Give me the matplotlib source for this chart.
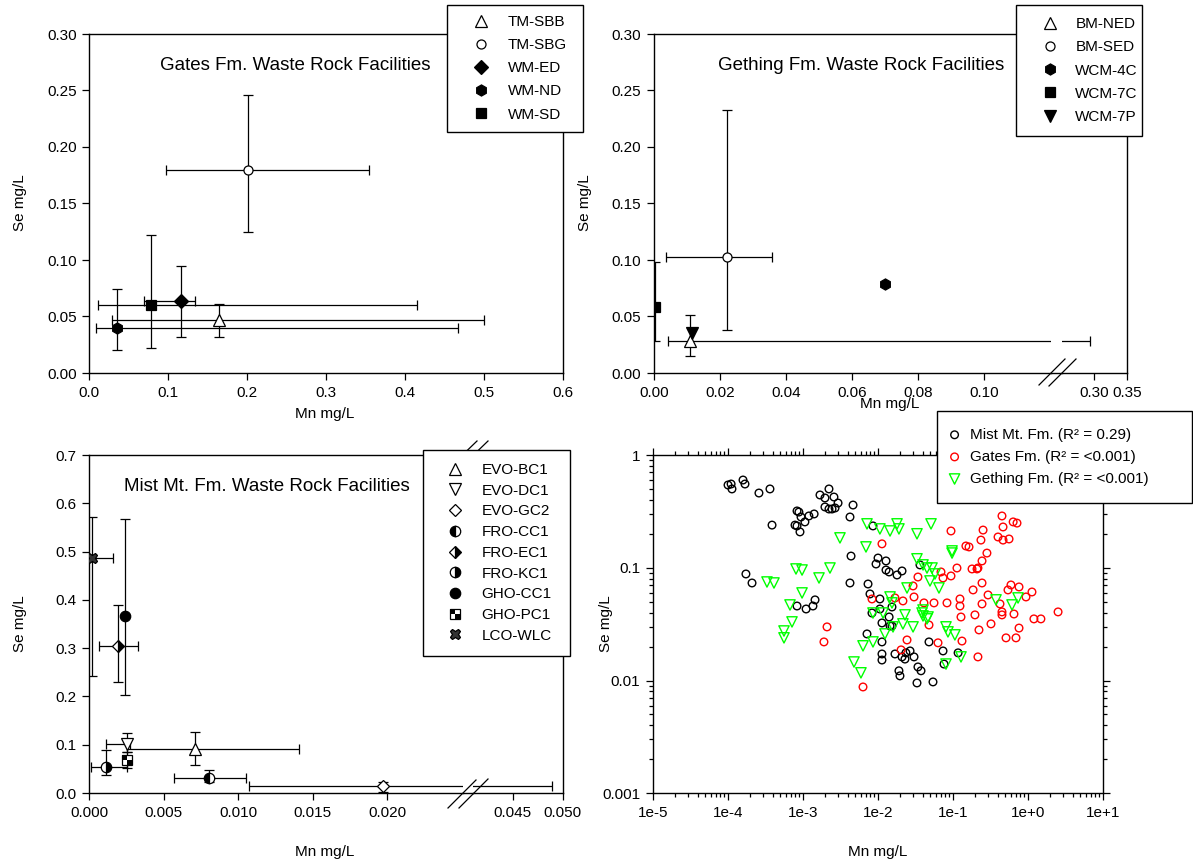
import numpy as np
import matplotlib
matplotlib.use('Agg')
import matplotlib.pyplot as plt
from matplotlib.lines import Line2D
from matplotlib.path import Path
from matplotlib.ticker import FixedLocator, FixedFormatter, NullFormatter, LogLocator

plt.rcParams['font.family'] = ['Liberation Sans', 'DejaVu Sans']
plt.rcParams['font.size'] = 11

# ---- Gates Fm. facilities (mean with min/max range) ----
gates_sites = ['TM-SBB', 'TM-SBG', 'WM-ED', 'WM-ND', 'WM-SD']
gates_mn = [0.164, 0.201, 0.117, 0.035, 0.078]
gates_mn_lo = [0.029, 0.097, 0.070, 0.009, 0.011]
gates_mn_hi = [0.500, 0.354, 0.134, 0.467, 0.415]
gates_se = [0.047, 0.180, 0.064, 0.040, 0.060]
gates_se_lo = [0.032, 0.125, 0.032, 0.020, 0.022]
gates_se_hi = [0.061, 0.246, 0.095, 0.074, 0.122]

# ---- Gething Fm. facilities ----
gething_sites = ['BM-NED', 'BM-SED', 'WCM-4C', 'WCM-7C', 'WCM-7P']
gething_mn = [0.0109, 0.0220, 0.0698, 0.0004, 0.0114]
gething_mn_lo = [0.0043, 0.0035, np.nan, np.nan, np.nan]
gething_mn_hi = [0.294, 0.0357, np.nan, np.nan, np.nan]
gething_se = [0.028, 0.103, 0.079, 0.058, 0.035]
gething_se_lo = [0.015, 0.038, np.nan, 0.028, np.nan]
gething_se_hi = [0.051, 0.233, np.nan, 0.098, np.nan]

# ---- Mist Mt. Fm. facilities ----
mist_sites = ['EVO-BC1', 'EVO-DC1', 'EVO-GC2', 'FRO-CC1', 'FRO-EC1',
              'FRO-KC1', 'GHO-CC1', 'GHO-PC1', 'LCO-WLC']
mist_mn = [0.0071, 0.0025, 0.0197, 0.0080, 0.0019, 0.0011, 0.0024, 0.0025, 0.0002]
mist_mn_lo = [0.0025, 0.0011, 0.0107, 0.0057, 0.00065, 0.00013, np.nan, np.nan, 0.0]
mist_mn_hi = [0.0141, 0.0027, 0.0489, 0.0105, 0.0033, 0.0025, np.nan, np.nan, 0.0016]
mist_se = [0.092, 0.102, 0.014, 0.032, 0.304, 0.054, 0.367, 0.069, 0.487]
mist_se_lo = [0.057, 0.085, 0.003, 0.023, 0.229, 0.037, 0.203, 0.052, 0.242]
mist_se_hi = [0.126, 0.124, 0.023, 0.048, 0.389, 0.090, 0.567, 0.085, 0.571]

# ---- individual samples for the log-log panel ----
mist_all_mn = [1.01e-4, 1.11e-4, 1.14e-4, 1.60e-4, 1.70e-4, 2.61e-4, 3.66e-4,
               3.90e-4, 1.75e-4, 2.11e-4,
               8.4e-4, 8.9e-4, 9.5e-4, 7.9e-4, 8.4e-4, 9.2e-4, 1.07e-3, 1.21e-3, 1.42e-3,
               2.24e-3, 1.70e-3, 1.98e-3, 2.61e-3, 2.96e-3, 1.98e-3, 2.24e-3, 2.46e-3,
               2.70e-3, 4.69e-3, 4.27e-3,
               8.4e-4, 1.11e-3, 1.37e-3, 1.46e-3,
               4.41e-3, 4.27e-3, 8.65e-3,
               1.01e-2, 9.5e-3, 1.29e-2, 1.29e-2, 1.42e-2, 1.81e-2, 2.11e-2, 3.66e-2,
               7.43e-3, 7.89e-3, 1.07e-2, 8.39e-3, 1.07e-2, 1.55e-2, 1.42e-2, 1.14e-2,
               1.46e-2, 1.55e-2,
               7.2e-3, 1.14e-2, 1.14e-2, 1.14e-2, 1.70e-2, 2.11e-2, 2.38e-2, 2.70e-2,
               2.31e-2, 3.05e-2, 1.92e-2, 1.98e-2, 3.44e-2, 3.78e-2, 3.34e-2, 5.46e-2,
               4.83e-2, 7.43e-2, 0.118, 7.66e-2]
mist_all_se = [0.542, 0.553, 0.50, 0.60, 0.553, 0.46, 0.50,
               0.239, 0.0881, 0.0733,
               0.319, 0.312, 0.282, 0.239, 0.235, 0.208, 0.255, 0.288, 0.30,
               0.50, 0.442, 0.416, 0.424, 0.375, 0.346, 0.332, 0.332, 0.339, 0.36, 0.282,
               0.0458, 0.0431, 0.0458, 0.0519,
               0.127, 0.0733, 0.235,
               0.122, 0.108, 0.115, 0.0955, 0.0918, 0.0863, 0.0937, 0.106,
               0.0718, 0.0586, 0.0529, 0.0397, 0.0431, 0.0449, 0.0366, 0.0324, 0.0305,
               0.0305,
               0.0259, 0.022, 0.0172, 0.0152, 0.0172, 0.0162, 0.0176, 0.0183, 0.0155,
               0.0162, 0.0122, 0.011, 0.0132, 0.0122, 0.00952, 0.00972, 0.022, 0.0183,
               0.0176, 0.014]

gates_all_mn = [1.14e-2, 8.39e-3, 1.70e-2, 2.17e-2, 2.96e-2, 3.05e-2, 3.44e-2, 2.11e-3,
                1.92e-3, 2.46e-2, 2.05e-2, 6.37e-3,
                0.454, 0.64, 0.72, 0.469, 0.0949, 0.254, 0.238, 0.402, 0.469, 0.564, 0.150,
                0.165, 0.286, 0.246, 0.114, 0.181, 0.211, 0.217, 0.0698, 0.0949, 0.0743,
                0.246, 0.187, 0.296, 0.598, 0.766, 0.546, 1.14, 0.949,
                0.0414, 0.0563, 0.0839, 0.125, 0.125, 0.246, 0.427, 0.454, 0.454, 0.656,
                0.198, 0.129, 1.21, 1.50, 2.54, 0.324, 0.0483, 0.766, 0.224, 0.514, 0.698,
                0.133, 0.0637, 0.217]
gates_all_se = [0.163, 0.0529, 0.054, 0.0508, 0.069, 0.0551, 0.0828, 0.0299, 0.022,
                0.0229, 0.0187, 0.00877,
                0.288, 0.255, 0.249, 0.23, 0.212, 0.216, 0.176, 0.1875, 0.176, 0.18, 0.156,
                0.153, 0.135, 0.115, 0.0995, 0.0976, 0.0976, 0.0995, 0.0918, 0.0846, 0.0812,
                0.0733, 0.0636, 0.0574, 0.0704, 0.0676, 0.0636, 0.061, 0.0551,
                0.0488, 0.0488, 0.0488, 0.0529, 0.0458, 0.0478, 0.0478, 0.0406, 0.0382,
                0.0389, 0.0382, 0.0366, 0.0352, 0.0352, 0.0406, 0.0318, 0.0311, 0.0292,
                0.0281, 0.0239, 0.0239, 0.0224, 0.0216, 0.0162]

gething_all_mn = [3.34e-4, 4.14e-4, 8.14e-4, 9.8e-4, 9.8e-4, 6.77e-4, 7.2e-4, 5.63e-4, 5.63e-4,
                  3.14e-3, 2.31e-3, 1.65e-3, 7.2e-3, 6.98e-3, 1.07e-2, 1.46e-2, 1.81e-2,
                  1.92e-2, 3.34e-2, 3.34e-2, 5.14e-2, 4.83e-3, 5.98e-3, 6.37e-3, 8.65e-3,
                  1.25e-2, 2.17e-2, 2.96e-2, 1.60e-2, 8.65e-3, 1.18e-2, 1.46e-2, 1.55e-2,
                  2.46e-2, 2.31e-2,
                  9.8e-2, 9.8e-2, 4.02e-2, 4.54e-2, 5.3e-2, 5.81e-2, 4.98e-2, 6.56e-2, 0.378,
                  0.743, 0.618, 4.02e-2, 3.9e-2, 4.02e-2, 4.69e-2, 4.54e-2, 8.14e-2, 8.65e-2,
                  0.107, 0.129, 8.14e-2]
gething_all_se = [0.0748, 0.0733, 0.0976, 0.0955, 0.0598, 0.0468, 0.0331, 0.0275, 0.0239,
                  0.184, 0.0995, 0.0812, 0.245, 0.153, 0.221, 0.212, 0.245, 0.221, 0.20,
                  0.12, 0.245, 0.0146, 0.0117, 0.0203, 0.022, 0.0259, 0.0318, 0.0299,
                  0.0299, 0.0397, 0.0397, 0.0551, 0.0488, 0.0662, 0.0382,
                  0.141, 0.135, 0.106, 0.0995, 0.0995, 0.0881, 0.0764, 0.0662, 0.0519,
                  0.054, 0.0468, 0.0422, 0.0397, 0.0374, 0.0366, 0.0352, 0.0299, 0.027,
                  0.0254, 0.0162, 0.014]

# tick positions / labels
tl_xticks = [0.0, 0.1, 0.2, 0.3, 0.4, 0.5, 0.6]
tl_yticks = [0.0, 0.05, 0.10, 0.15, 0.20, 0.25, 0.30]
tr_xticks_a = [0.0, 0.02, 0.04, 0.06, 0.08, 0.10]
tr_xticks_b = [0.30, 0.35]
bl_xticks_a = [0.0, 0.005, 0.010, 0.015, 0.020]
bl_xticks_b = [0.045, 0.050]
bl_yticks = [0.0, 0.1, 0.2, 0.3, 0.4, 0.5, 0.6, 0.7]
br_xticks = [1e-5, 1e-4, 1e-3, 1e-2, 1e-1, 1e0, 1e1]
br_xlabels = ['1e-5', '1e-4', '1e-3', '1e-2', '1e-1', '1e+0', '1e+1']
br_yticks = [1e-3, 1e-2, 1e-1, 1]
br_ylabels = ['0.001', '0.01', '0.1', '1']

W, H = 1193, 863
fig = plt.figure(figsize=(W / 100, H / 100), dpi=100)


def fx(px):
    return px / W


def fy(py):
    return 1 - py / H


def px_axes(l, t, r, b):
    return fig.add_axes([l / W, 1 - b / H, (r - l) / W, (b - t) / H])


def style_lin(ax, fmt):
    for s in ax.spines.values():
        s.set_linewidth(1.0)
    ax.tick_params(direction='out', length=5, width=0.9, pad=4, labelsize=11,
                   top=False, right=False)
    ax.xaxis.set_major_formatter(plt.FormatStrFormatter(fmt[0]))
    ax.yaxis.set_major_formatter(plt.FormatStrFormatter(fmt[1]))


# half-filled checker square used for GHO-PC1
checker = Path([(-1, 1), (0, 1), (0, 0), (-1, 0), (-1, 1),
                (0, 0), (1, 0), (1, -1), (0, -1), (0, 0)],
               [Path.MOVETO, Path.LINETO, Path.LINETO, Path.LINETO, Path.CLOSEPOLY,
                Path.MOVETO, Path.LINETO, Path.LINETO, Path.LINETO, Path.CLOSEPOLY])


def marker_handles(st):
    base = dict(linestyle='none', markeredgecolor='black', markeredgewidth=0.9)
    if st.get('checker'):
        h1 = Line2D([], [], marker='s', markersize=st['ms'], markerfacecolor='white', **base)
        h2 = Line2D([], [], marker=checker, markersize=st['ms'], markerfacecolor='black',
                    linestyle='none', markeredgewidth=0)
        return (h1, h2)
    return Line2D([], [], marker=st['m'], markersize=st['ms'],
                  markerfacecolor=st.get('fc', 'black'),
                  fillstyle=st.get('fill', 'full'),
                  markerfacecoloralt='white', **base)


def draw_sites(axes, mn, mlo, mhi, se, slo, shi, styles):
    for ax in axes:
        for i in range(len(mn)):
            xerr = None
            yerr = None
            if not np.isnan(mlo[i]):
                xerr = [[mn[i] - mlo[i]], [mhi[i] - mn[i]]]
            if not np.isnan(slo[i]):
                yerr = [[se[i] - slo[i]], [shi[i] - se[i]]]
            if xerr is not None or yerr is not None:
                ax.errorbar([mn[i]], [se[i]], xerr=xerr, yerr=yerr, fmt='none',
                            ecolor='black', elinewidth=0.9, capsize=3.6, capthick=0.9,
                            zorder=2)
            h = marker_handles(styles[i])
            for part in (h if isinstance(h, tuple) else (h,)):
                ax.plot([mn[i]], [se[i]], marker=part.get_marker(),
                        markersize=part.get_markersize(),
                        markerfacecolor=part.get_markerfacecolor(),
                        markerfacecoloralt='white',
                        fillstyle=part.get_fillstyle(),
                        markeredgecolor=part.get_markeredgecolor(),
                        markeredgewidth=part.get_markeredgewidth(),
                        linestyle='none', zorder=3)


def add_legend(ax, styles, labels, l, t, r, spacing, pad=0.55, hlen=3.1, tpad=0.25):
    handles = [marker_handles(st) for st in styles]
    leg = ax.legend(handles, labels, loc='upper left',
                    bbox_to_anchor=(fx(l), fy(t), (r - l) / W, 0),
                    bbox_transform=fig.transFigure, mode='expand', borderaxespad=0,
                    fancybox=False, edgecolor='black', framealpha=1, fontsize=11,
                    handlelength=hlen, handletextpad=tpad, borderpad=pad,
                    labelspacing=spacing)
    leg.get_frame().set_linewidth(1.0)
    leg.set_zorder(10)
    return leg


def fig_line(ax, pts, lw=0.9):
    xs = [fx(p[0]) for p in pts]
    ys = [fy(p[1]) for p in pts]
    ax.add_artist(Line2D(xs, ys, transform=fig.transFigure, color='black', lw=lw,
                         clip_on=False, zorder=1))


# ---------------- Gates Fm. ----------------
gates_styles = [dict(m='^', ms=8, fc='white'), dict(m='o', ms=6.5, fc='white'),
                dict(m='D', ms=7.5), dict(m='h', ms=8), dict(m='s', ms=7.5)]
ax_tl = px_axes(89, 34, 563, 373)
style_lin(ax_tl, ('%.1f', '%.2f'))
ax_tl.set_xlim(0, 0.6)
ax_tl.set_ylim(0, 0.30)
ax_tl.set_xticks(tl_xticks)
ax_tl.set_yticks(tl_yticks)
draw_sites([ax_tl], gates_mn, gates_mn_lo, gates_mn_hi, gates_se, gates_se_lo,
           gates_se_hi, gates_styles)
add_legend(ax_tl, gates_styles, gates_sites, 447, 5, 583, 0.6, pad=0.65)
fig.text(fx(160), fy(66), 'Gates Fm. Waste Rock Facilities', fontsize=13.5,
         ha='left', va='center')

# ---------------- Gething Fm. (broken x axis) ----------------
gething_styles = [dict(m='^', ms=8, fc='white'), dict(m='o', ms=6.5, fc='white'),
                  dict(m='h', ms=8), dict(m='s', ms=7.5), dict(m='v', ms=8)]
ax_tr1 = px_axes(654, 34, 1050.7, 373)
ax_tr2 = px_axes(1061.7, 34, 1127.3, 373)
for ax in (ax_tr1, ax_tr2):
    style_lin(ax, ('%.2f', '%.2f'))
    ax.set_ylim(0, 0.30)
    ax.set_yticks(tl_yticks)
ax_tr1.set_xlim(0, 0.1201)
ax_tr2.set_xlim(0.2515, 0.35)
ax_tr1.set_xticks(tr_xticks_a)
ax_tr2.set_xticks(tr_xticks_b)
ax_tr1.spines['right'].set_visible(False)
ax_tr2.spines['left'].set_visible(False)
ax_tr2.tick_params(left=False, labelleft=False)
draw_sites([ax_tr1, ax_tr2], gething_mn, gething_mn_lo, gething_mn_hi, gething_se,
           gething_se_lo, gething_se_hi, gething_styles)
fig_line(ax_tr2, [(1050.7, 373), (1061.7, 373)], lw=1.0)
fig_line(ax_tr2, [(1050.7, 34), (1061.7, 34)], lw=1.0)
fig_line(ax_tr2, [(1039, 385), (1065, 359)])
fig_line(ax_tr2, [(1049, 386), (1076, 359)])
add_legend(ax_tr2, gething_styles, gething_sites, 1016, 5, 1142, 0.6, pad=0.8,
           hlen=2.8, tpad=0.28)
fig.text(fx(718), fy(66), 'Gething Fm. Waste Rock Facilities', fontsize=13.5,
         ha='left', va='center')

# ---------------- Mist Mt. Fm. (broken x axis) ----------------
mist_styles = [dict(m='^', ms=8, fc='white'), dict(m='v', ms=8, fc='white'),
               dict(m='D', ms=6.5, fc='white'), dict(m='o', ms=7.5, fill='left'),
               dict(m='D', ms=6.5, fill='right'), dict(m='o', ms=7.5, fill='right'),
               dict(m='o', ms=7.5), dict(checker=True, ms=7), dict(m='X', ms=7.5, fc='#333333')]
ax_bl1 = px_axes(89.3, 455, 462.7, 793)
ax_bl2 = px_axes(473.3, 455, 562.7, 793)
for ax in (ax_bl1, ax_bl2):
    style_lin(ax, ('%.3f', '%.1f'))
    ax.set_ylim(0, 0.7)
    ax.set_yticks(bl_yticks)
ax_bl1.set_xlim(0, 0.02506)
ax_bl2.set_xlim(0.04106, 0.050)
ax_bl1.set_xticks(bl_xticks_a)
ax_bl2.set_xticks(bl_xticks_b)
ax_bl1.spines['right'].set_visible(False)
ax_bl2.spines['left'].set_visible(False)
ax_bl2.tick_params(left=False, labelleft=False)
draw_sites([ax_bl1, ax_bl2], mist_mn, mist_mn_lo, mist_mn_hi, mist_se, mist_se_lo,
           mist_se_hi, mist_styles)
fig_line(ax_bl2, [(462.7, 793), (473.3, 793)], lw=1.0)
fig_line(ax_bl2, [(462.7, 455), (473.3, 455)], lw=1.0)
fig_line(ax_bl2, [(448, 808), (476, 780)])
fig_line(ax_bl2, [(459, 808), (488, 779)])
fig_line(ax_bl2, [(448, 469), (477, 441)])
fig_line(ax_bl2, [(459, 469), (488, 441)])
add_legend(ax_bl2, mist_styles, mist_sites, 423, 450, 570, 0.44, pad=0.85, hlen=2.45,
           tpad=0.52)
fig.text(fx(124), fy(486), 'Mist Mt. Fm. Waste Rock Facilities', fontsize=13.5,
         ha='left', va='center')

# ---------------- all samples, log-log ----------------
ax_br = px_axes(652.7, 455, 1102.7, 793.3)
ax_br.scatter(mist_all_mn, mist_all_se, s=30, marker='o', facecolors='none',
              edgecolors='black', linewidths=1.0, label='Mist Mt. Fm. (R² = 0.29)')
ax_br.scatter(gates_all_mn, gates_all_se, s=30, marker='o', facecolors='none',
              edgecolors='#ff0000', linewidths=1.0, label='Gates Fm. (R² = <0.001)')
ax_br.scatter(gething_all_mn, gething_all_se, s=55, marker='v', facecolors='none',
              edgecolors='#00ff00', linewidths=1.0, label='Gething Fm. (R² = <0.001)')
ax_br.set_xscale('log')
ax_br.set_yscale('log')
ax_br.set_xlim(1e-5, 10)
ax_br.set_ylim(1e-3, 1)
ax_br.xaxis.set_major_locator(FixedLocator(br_xticks))
ax_br.xaxis.set_major_formatter(FixedFormatter(br_xlabels))
ax_br.yaxis.set_major_locator(FixedLocator(br_yticks))
ax_br.yaxis.set_major_formatter(FixedFormatter(br_ylabels))
ax_br.xaxis.set_minor_locator(LogLocator(base=10, subs=np.arange(2, 10), numticks=20))
ax_br.yaxis.set_minor_locator(LogLocator(base=10, subs=np.arange(2, 10), numticks=20))
ax_br.xaxis.set_minor_formatter(NullFormatter())
ax_br.yaxis.set_minor_formatter(NullFormatter())
for s in ax_br.spines.values():
    s.set_linewidth(1.0)
ax_br.tick_params(which='both', direction='out', top=True, right=True, labelsize=11,
                  width=0.9, pad=4)
ax_br.tick_params(which='major', length=5)
ax_br.tick_params(which='minor', length=3)
leg = ax_br.legend(loc='upper left', bbox_to_anchor=(fx(937), fy(411), (1192 - 937) / W, 0),
                   bbox_transform=fig.transFigure, mode='expand', borderaxespad=0,
                   fancybox=False, edgecolor='black', framealpha=1, fontsize=11,
                   handlelength=0.1, handletextpad=0.95, borderpad=1.1, labelspacing=0.53,
                   scatterpoints=1)
leg.get_frame().set_linewidth(1.0)

# ---------------- axis titles ----------------
for x, y in [(325, 414), (890, 404), (325, 852), (878, 852)]:
    fig.text(fx(x), fy(y), 'Mn mg/L', ha='center', va='center', fontsize=11)
for x, y in [(20, 203), (585, 203), (20, 624), (606, 624)]:
    fig.text(fx(x), fy(y), 'Se mg/L', ha='center', va='center', fontsize=11,
             rotation=90)

fig.savefig('out.png', dpi=100)
